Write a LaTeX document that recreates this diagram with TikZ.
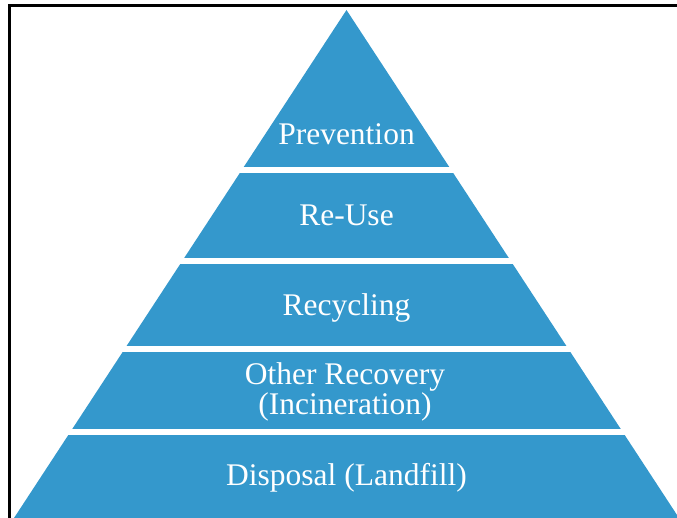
\documentclass[tikz,border=0pt]{standalone}
\usepackage{fontspec}
\setmainfont{Liberation Serif}
\definecolor{pyr}{RGB}{52,152,204}
\begin{document}
\begin{tikzpicture}[x=1pt,y=-1pt,
  lbl/.style={text=white,font=\fontsize{31.5}{33}\selectfont,anchor=base,inner sep=0pt},
  gap/.style={fill=white}]
\useasboundingbox (0,0) rectangle (677,518);
\begin{scope}
  \clip (0,0) rectangle (677,518);
  \fill[pyr] (346.5,10) -- (14,518) -- (679,518) -- cycle;
  \fill[gap] (0,167) rectangle (677,173);
  \fill[gap] (0,258) rectangle (677,264);
  \fill[gap] (0,346) rectangle (677,352);
  \fill[gap] (0,429) rectangle (677,435);
\end{scope}
\draw[line width=3.5pt] (9.3,518) -- (9.3,5.7) -- (677,5.7);
\node[lbl] (prev) at (346.5,145) {Prevention};
\node[lbl] (reuse) at (346.5,226) {Re-Use};
\node[lbl] (recyc) at (346.5,316) {Recycling};
\node[lbl] (other) at (345,384) {Other Recovery};
\node[lbl] (incin) at (345,414) {(Incineration)};
\node[lbl] (disp) at (346.5,485) {Disposal (Landfill)};
\end{tikzpicture}
\end{document}
